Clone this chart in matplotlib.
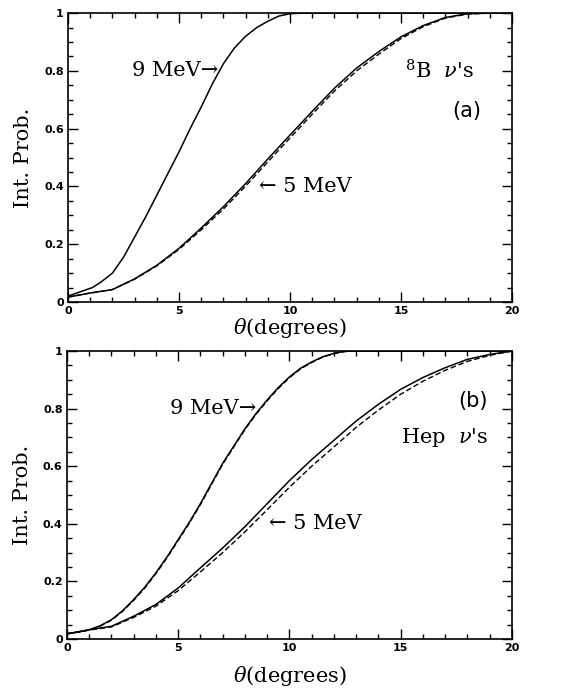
import numpy as np
import matplotlib
matplotlib.use("Agg")
import matplotlib.pyplot as plt
from matplotlib.ticker import MultipleLocator, FixedLocator

plt.rcParams['mathtext.fontset'] = 'dejavuserif'

# panel (a): 8B neutrinos
th_a9 = [0, 0.5, 1.1, 1.5, 2, 2.5, 3, 3.5, 4, 4.5, 5, 5.5, 6, 6.5, 7, 7.5, 8, 8.5,
         9, 9.5, 10, 10.5, 20]
p_a9 = [0.02, 0.034, 0.05, 0.07, 0.10, 0.155, 0.225, 0.295, 0.37, 0.445, 0.52, 0.60,
        0.675, 0.755, 0.825, 0.88, 0.92, 0.95, 0.972, 0.99, 0.998, 1.0, 1.0]
th_a5 = [0, 1, 2, 3, 4, 5, 6, 7, 8, 9, 10, 11, 12, 13, 14, 15, 16, 17, 18, 19, 20]
p_a5 = [0.017, 0.031, 0.043, 0.08, 0.127, 0.186, 0.256, 0.33, 0.41, 0.495, 0.578,
        0.66, 0.74, 0.81, 0.867, 0.918, 0.957, 0.985, 0.998, 1.0, 1.0]
p_a5d = [0.017, 0.031, 0.043, 0.079, 0.125, 0.182, 0.250, 0.322, 0.401, 0.485, 0.568,
         0.65, 0.73, 0.80, 0.858, 0.912, 0.953, 0.983, 0.997, 1.0, 1.0]

# panel (b): hep neutrinos
th_b9 = [0, 0.5, 1, 1.5, 2, 2.5, 3, 3.5, 4, 4.5, 5, 5.5, 6, 6.5, 7, 7.5, 8, 8.5, 9,
         9.5, 10, 10.5, 11, 11.5, 12, 12.5, 13, 20]
p_b9 = [0.018, 0.024, 0.032, 0.046, 0.067, 0.098, 0.137, 0.18, 0.23, 0.285, 0.345,
        0.405, 0.47, 0.54, 0.61, 0.67, 0.73, 0.783, 0.83, 0.873, 0.91, 0.94, 0.962,
        0.98, 0.992, 0.999, 1.0, 1.0]
p_b9d = [0.018, 0.024, 0.031, 0.045, 0.065, 0.096, 0.134, 0.177, 0.227, 0.282, 0.342,
         0.402, 0.467, 0.537, 0.607, 0.667, 0.727, 0.780, 0.827, 0.870, 0.907, 0.938,
         0.960, 0.979, 0.991, 0.998, 1.0, 1.0]
th_b5 = [0, 1, 2, 3, 4, 5, 6, 7, 8, 9, 10, 11, 12, 13, 14, 15, 16, 17, 18, 19, 20]
p_b5 = [0.018, 0.032, 0.044, 0.079, 0.12, 0.177, 0.247, 0.316, 0.39, 0.47, 0.55,
        0.623, 0.69, 0.757, 0.815, 0.867, 0.908, 0.942, 0.971, 0.988, 1.0]
p_b5d = [0.018, 0.031, 0.042, 0.075, 0.114, 0.168, 0.233, 0.300, 0.372, 0.449, 0.527,
         0.600, 0.667, 0.735, 0.795, 0.850, 0.895, 0.933, 0.964, 0.985, 1.0]

xticks = [0, 5, 10, 15, 20]
yticks = [0, 0.2, 0.4, 0.6, 0.8, 1]
ylabels = ['0', '0.2', '0.4', '0.6', '0.8', '1']

fig = plt.figure(figsize=(5.67, 6.92), dpi=100)
ax1 = fig.add_axes([0.120, 0.5636, 0.783, 0.4174])
ax2 = fig.add_axes([0.118, 0.0766, 0.785, 0.4162])

serif = 'DejaVu Serif'
tfs = 15


def style(ax, lpad):
    ax.set_xlim(0, 20)
    ax.set_ylim(0, 1)
    ax.xaxis.set_major_locator(FixedLocator(xticks))
    ax.xaxis.set_minor_locator(MultipleLocator(1))
    ax.yaxis.set_major_locator(FixedLocator(yticks))
    ax.yaxis.set_minor_locator(MultipleLocator(0.05))
    ax.set_xticklabels([str(t) for t in xticks], fontsize=8, fontweight='bold')
    ax.set_yticklabels(ylabels, fontsize=8, fontweight='bold')
    ax.tick_params(which='both', direction='in', top=True, right=True, width=1)
    ax.tick_params(which='major', length=7, pad=3)
    ax.tick_params(which='minor', length=3.5)
    for s in ax.spines.values():
        s.set_linewidth(1.2)
    ax.set_xlabel(r'$\theta$(degrees)', family=serif, fontsize=15, labelpad=lpad)
    ax.set_ylabel('Int. Prob.', family=serif, fontsize=15, labelpad=8)


ax1.plot(th_a9, p_a9, 'k-', lw=1.1)
ax1.plot(th_a5, p_a5, 'k-', lw=1.1)
ax1.plot(th_a5, p_a5d, 'k--', lw=1.0, dashes=(4, 2))
style(ax1, 0)
ax1.text(6.75, 0.80, '9 MeV\u2192', family=serif, fontsize=tfs, ha='right', va='center')
ax1.text(8.6, 0.40, '\u2190 5 MeV', family=serif, fontsize=tfs, ha='left', va='center')
ax1.text(15.2, 0.80, r"$^8$B  $\nu$'s", family=serif, fontsize=tfs, ha='left', va='center')
ax1.text(17.95, 0.66, '(a)', family='DejaVu Sans', fontsize=tfs, ha='center', va='center')

ax2.plot(th_b9, p_b9, 'k-', lw=1.1)
ax2.plot(th_b9, p_b9d, 'k--', lw=1.0, dashes=(4, 2))
ax2.plot(th_b5, p_b5, 'k-', lw=1.1)
ax2.plot(th_b5, p_b5d, 'k--', lw=1.0, dashes=(4, 2))
style(ax2, 8)
ax2.text(8.5, 0.80, '9 MeV\u2192', family=serif, fontsize=tfs, ha='right', va='center')
ax2.text(9.1, 0.40, '\u2190 5 MeV', family=serif, fontsize=tfs, ha='left', va='center')
ax2.text(18.25, 0.826, '(b)', family='DejaVu Sans', fontsize=tfs, ha='center', va='center')
ax2.text(15.0, 0.70, r"Hep  $\nu$'s", family=serif, fontsize=tfs, ha='left', va='center')

fig.savefig('out.png', dpi=100)
